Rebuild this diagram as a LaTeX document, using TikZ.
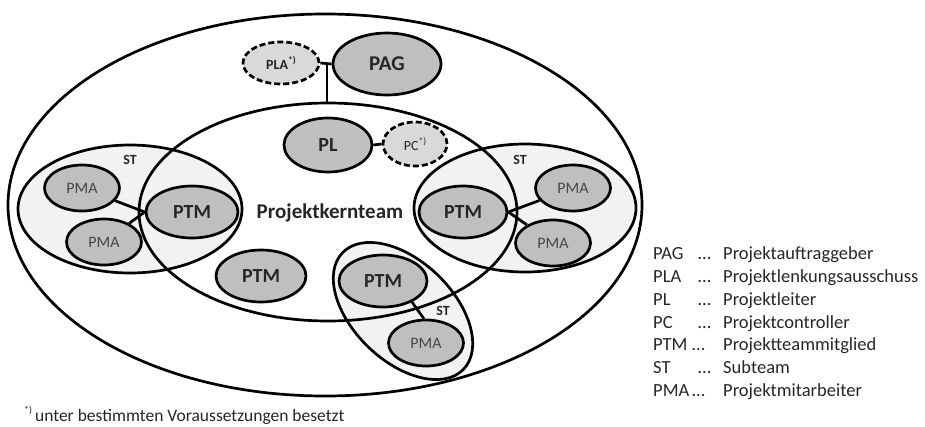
\documentclass[tikz,border=0pt]{standalone}
\usepackage{fontspec}
\setmainfont{Carlito}
\usetikzlibrary{shapes.geometric}

\definecolor{nodegrey}{HTML}{BFBFBF}
\definecolor{optgrey}{HTML}{D9D9D9}
\definecolor{teamgrey}{HTML}{F2F2F2}
\definecolor{inkgrey}{HTML}{262626}

% footnote marker for roles that are only staffed under certain conditions
\newcommand{\optmark}[1]{\raisebox{0.42em}{\fontsize{#1}{#1}\selectfont *)}}

\begin{document}
\begin{tikzpicture}[x=1pt,y=-1pt,
  ring/.style={draw, ellipse, line width=2.7pt, inner sep=0pt},
  role/.style={ring, fill=nodegrey, text=inkgrey, font=\fontsize{20}{20}\selectfont\bfseries},
  member/.style={ring, fill=nodegrey, text=inkgrey!85, font=\fontsize{16}{16}\selectfont,
                 minimum width=75pt, minimum height=46pt},
  optional/.style={ring, fill=optgrey, text=inkgrey, dash pattern=on 6pt off 3pt},
  subteam/.style={ring, fill=teamgrey},
  link/.style={line width=2.7pt},
  tag/.style={font=\fontsize{14}{14}\selectfont\bfseries, text=inkgrey, inner sep=0pt},
  legend/.style={anchor=base west, inner sep=0pt, text=inkgrey, font=\fontsize{18.5}{18.5}\selectfont},
]
\useasboundingbox (0,0) rectangle (925,426);

% organisation boundary
\node[ring, minimum width=634pt, minimum height=382pt] (org) at (325,205) {};

% subteams
\node[subteam, minimum width=224pt, minimum height=128pt] (stL) at (130,209) {};
\node[subteam, minimum width=222pt, minimum height=128pt] (stR) at (525,208) {};
\node[subteam, rotate=-44, minimum width=168pt, minimum height=100pt] (stB) at (403,311) {};
\node[tag] (stLlabel) at (130,160) {ST};
\node[tag] (stRlabel) at (520,160) {ST};
\node[tag] (stBlabel) at (443,311) {ST};

% core team
\node[ring, minimum width=378pt, minimum height=218pt] (kern) at (328,212) {};
\node[font=\fontsize{21}{21}\selectfont\bfseries, text=inkgrey] (kernlabel) at (330,213) {Projektkernteam};

% steering level
\node[role, font=\fontsize{21}{21}\selectfont\bfseries, minimum width=108pt, minimum height=62pt] (pag) at (387,64) {PAG};
\node[optional, font=\fontsize{14}{14}\selectfont\bfseries, minimum width=76pt, minimum height=42pt] (pla) at (281,63) {PLA\optmark{9.5}};
\coordinate (j) at (327,63);
\draw[link] (pla.east) -- (pag.west);
\draw[link] (j) -- (j |- kern.north);

% project lead
\node[role, minimum width=88pt, minimum height=54pt] (pl) at (328,145) {PL};
\node[optional, font=\fontsize{14}{14}\selectfont, minimum width=64pt, minimum height=44pt] (pc) at (415,144) {PC\optmark{9.5}};
\draw[link] (pl.east) -- (pc.west);

% left subteam
\node[member] (pmaL1) at (82,188) {PMA};
\node[member] (pmaL2) at (104,242) {PMA};
\node[role, minimum width=92pt, minimum height=52pt] (ptmL) at (192,212) {PTM};
\draw[link] (pmaL1) -- (ptmL.west);
\draw[link] (pmaL2) -- (ptmL.west);

% right subteam
\node[role, minimum width=88pt, minimum height=52pt] (ptmR) at (463,212) {PTM};
\node[member] (pmaR1) at (573,188) {PMA};
\node[member] (pmaR2) at (553,243) {PMA};
\draw[link] (pmaR1) -- (ptmR.east);
\draw[link] (pmaR2) -- (ptmR.east);

% lower subteam
\node[role, minimum width=88pt, minimum height=52pt] (ptmB) at (383,281) {PTM};
\node[member] (pmaB) at (426,343) {PMA};
\draw[link] (ptmB.-36) -- (pmaB.95);

% team member without subteam
\node[role, minimum width=90pt, minimum height=52pt] (ptmC) at (261,276) {PTM};

% legend
\foreach \y/\abbr/\dx/\desc in {259/PAG/698/Projektauftraggeber,
                                 282/PLA/698/Projektlenkungsausschuss,
                                 305/PL/698/Projektleiter,
                                 328/PC/698/Projektcontroller,
                                 350/PTM/692/Projektteammitglied,
                                 373/ST/698/Subteam,
                                 396/PMA/692/Projektmitarbeiter}{
  \node[legend] (abbr-\abbr) at (653,\y) {\abbr};
  \node[legend] (dots-\abbr) at (\dx,\y) {…};
  \node[legend] (desc-\abbr) at (723,\y) {\desc};
}

% footnote
\node[anchor=base west, inner sep=0pt, text=inkgrey, font=\fontsize{17.5}{17.5}\selectfont] (note) at (24,421) {\optmark{10}\,unter bestimmten Voraussetzungen besetzt};
\end{tikzpicture}
\end{document}
